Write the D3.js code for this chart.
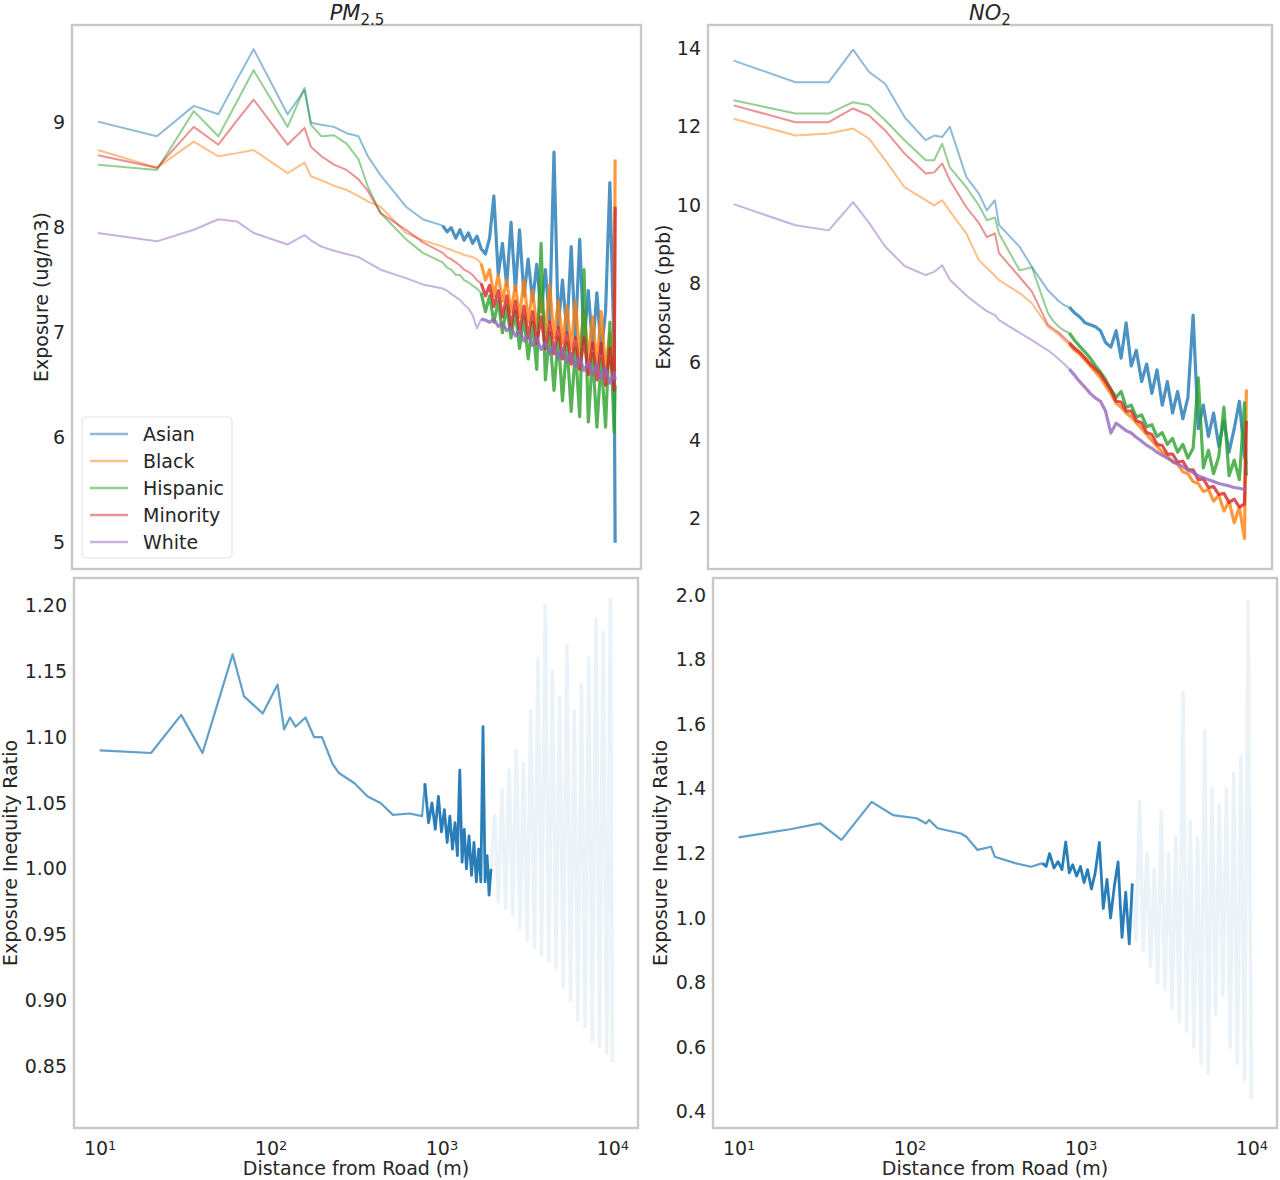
<!DOCTYPE html>
<html><head><meta charset="utf-8">
<script src="https://cdn.jsdelivr.net/npm/d3@7"></script>
<style>
body{margin:0;background:#fff;}
svg text{font-family:"DejaVu Sans",sans-serif;fill:#262626;}
</style></head><body>
<svg id="chart" width="1280" height="1180"></svg>
<script>
// ---------- categories ----------
const groups = ["Asian","Black","Hispanic","Minority","White"];
const groupColors = ["#1f77b4","#ff7f0e","#2ca02c","#d62728","#9467bd"];
const xTickValues = [10,100,1000,10000];
const xTickExponents = ["1","2","3","4"];
const pmTicks = [5,6,7,8,9];
const no2Ticks = [2,4,6,8,10,12,14];
const ratioPmTicks = [0.85,0.90,0.95,1.00,1.05,1.10,1.15,1.20];
const ratioNo2Ticks = [0.4,0.6,0.8,1.0,1.2,1.4,1.6,1.8,2.0];

// ---------- PM2.5 exposure (ug/m3) ----------
const pmDist = [10,22,36,50,64,80,126,158,172,198,234,277,325,368,436,612,767,
 1000,1060,1120,1190,1260,1330,1410,1490,1580,1670,
 1770,1870,1980,2100,2220,2350,2490,2640,2790,2960,
 3130,3320,3510,3720,3940,4170,4420,4680,4950,5250,
 5560,5880,6230,6600,6990,7400,7840,8300,8800,9320,
 9870,10000];
const pmAsian = [9.01,8.87,9.16,9.08,9.41,9.70,9.08,9.31,9.00,8.98,8.96,8.90,8.87,8.68,8.50,8.20,8.08,
 8.02,7.96,8.00,7.90,7.98,7.88,7.95,7.85,7.92,7.80,
 7.75,7.90,8.30,7.55,7.85,7.45,8.05,7.40,7.98,7.35,
 7.70,7.30,7.65,7.20,7.60,7.10,8.72,7.05,7.50,7.00,
 7.82,6.95,7.89,6.90,7.40,6.85,7.38,6.80,7.20,8.43,
 6.80,5.00];
const pmBlack = [8.74,8.57,8.82,8.68,8.71,8.74,8.52,8.62,8.49,8.45,8.40,8.36,8.30,8.25,8.20,7.95,7.88,
 7.82,7.80,7.79,7.77,7.76,7.74,7.73,7.72,7.70,7.66,
 7.50,7.60,7.35,7.55,7.30,7.50,7.20,7.45,7.15,7.50,
 7.10,7.40,7.05,7.35,7.00,7.45,6.95,7.30,6.90,7.25,
 6.85,7.30,6.80,7.20,6.75,7.15,6.70,7.20,6.65,7.00,
 6.60,8.65];
const pmHispanic = [8.60,8.55,9.11,8.87,9.20,9.50,8.96,9.33,8.98,8.87,8.88,8.80,8.65,8.39,8.14,7.89,7.76,
 7.67,7.62,7.60,7.55,7.55,7.50,7.48,7.45,7.42,7.38,
 7.20,7.35,7.10,7.30,7.00,7.25,6.95,7.20,6.85,7.15,
 6.75,7.10,6.65,7.85,6.55,7.00,6.45,6.95,6.35,6.90,
 6.25,6.85,6.20,7.60,6.15,6.80,6.10,6.75,6.10,7.10,
 6.05,6.50];
const pmMinority = [8.69,8.57,8.96,8.79,9.02,9.22,8.79,8.95,8.77,8.68,8.60,8.55,8.46,8.35,8.14,7.98,7.86,
 7.76,7.72,7.70,7.67,7.64,7.60,7.58,7.55,7.50,7.47,
 7.35,7.45,7.25,7.40,7.15,7.35,7.05,7.30,7.00,7.25,
 6.95,7.20,6.90,7.15,6.85,7.10,6.80,7.05,6.75,7.00,
 6.70,6.95,6.65,6.95,6.60,6.90,6.55,6.90,6.50,6.85,
 6.45,8.20];
const pmWhite = [7.95,7.87,7.98,8.08,8.06,7.95,7.84,7.93,7.88,7.82,7.78,7.75,7.72,7.67,7.60,7.52,7.46,
 7.42,7.40,7.37,7.34,7.31,7.27,7.23,7.17,7.04,7.13,
 7.12,7.10,7.13,7.06,7.09,7.02,7.05,6.97,7.02,6.92,
 6.98,6.88,6.95,6.84,6.90,6.80,6.87,6.76,6.84,6.72,
 6.80,6.68,6.76,6.64,6.72,6.60,6.70,6.56,6.66,6.52,
 6.62,6.55];

// ---------- NO2 exposure (ppb) ----------
const no2Dist = [10,23,36,50,62,77,100,133,149,166,184,230,272,303,338,357,471,556,
 690,740,800,860,920,990,1060,1140,1220,1310,
 1400,1500,1610,1730,1850,1980,2120,2270,2440,2610,
 2800,3000,3220,3450,3700,3960,4250,4550,4880,5230,
 5600,6000,6430,6900,7390,7920,8490,9100,9750,10000];
const no2Asian = [13.69,13.14,13.14,13.97,13.40,13.10,12.25,11.66,11.78,11.74,12.00,10.72,10.30,9.87,10.13,9.50,8.94,8.43,
 7.83,7.70,7.55,7.45,7.40,7.25,7.15,7.00,6.95,6.90,
 6.80,6.50,6.38,6.80,6.10,7.00,5.90,6.30,5.50,5.95,
 5.20,5.80,4.90,5.50,4.70,5.25,4.55,5.10,7.20,4.30,
 4.90,4.10,4.70,3.85,4.50,3.70,4.30,5.00,3.60,3.40];
const no2Black = [12.21,11.78,11.83,11.96,11.70,11.15,10.46,10.13,10.00,10.13,9.85,9.28,8.60,8.40,8.20,8.09,7.76,7.50,
 6.90,6.80,6.70,6.55,6.45,6.30,6.20,6.05,5.90,5.75,
 5.60,5.40,5.20,4.95,4.85,4.70,4.60,4.45,4.30,4.15,
 4.00,3.85,3.70,3.60,3.45,3.40,3.20,3.15,2.95,2.90,
 2.70,2.75,2.45,2.60,2.20,2.45,1.90,2.30,1.50,5.30];
const no2Hispanic = [12.68,12.34,12.34,12.63,12.55,12.17,11.66,11.15,11.15,11.57,10.97,10.46,10.00,9.62,9.69,9.28,8.34,8.42,
 7.25,7.05,6.90,6.80,6.74,6.55,6.40,6.25,6.10,5.90,
 5.75,5.55,5.30,5.10,5.25,4.85,4.90,4.60,4.65,4.35,
 4.40,4.10,4.20,3.90,4.05,3.70,3.90,3.55,3.80,5.60,
 3.30,3.75,3.15,3.60,4.85,3.10,3.50,3.00,4.96,3.10];
const no2Minority = [12.55,12.12,12.12,12.47,12.29,11.91,11.32,10.81,10.84,11.07,10.64,9.95,9.55,9.19,9.28,8.78,8.17,7.80,
 6.95,6.85,6.75,6.62,6.50,6.35,6.25,6.10,5.95,5.82,
 5.70,5.50,5.30,5.00,4.98,4.75,4.75,4.50,4.45,4.20,
 4.15,3.90,3.87,3.65,3.65,3.45,3.47,3.25,3.25,3.00,
 3.02,2.80,2.82,2.62,2.65,2.42,2.50,2.30,2.38,4.50];
const no2White = [10.03,9.49,9.36,10.08,9.55,8.95,8.45,8.22,8.30,8.47,8.10,7.70,7.45,7.30,7.20,7.07,6.75,6.56,
 6.30,6.20,6.07,5.95,5.82,5.66,5.50,5.35,5.20,5.08,
 5.00,4.75,4.19,4.44,4.35,4.25,4.19,4.08,3.98,3.88,
 3.80,3.70,3.62,3.55,3.47,3.40,3.33,3.25,3.18,3.10,
 3.05,3.00,2.95,2.90,2.87,2.84,2.80,2.78,2.75,2.74];

// ---------- Exposure inequity ratio, PM2.5 ----------
const ratioPmDist = [10,20,30,40,60,70,90,110,120,130,140,160,180,200,230,250,310,370,440,520,650,770,
 800,840,880,920,960,1000,1040,1080,1120,1160,1200,1240,1280,1320,1360,1400,1450,1500,1550,1600,1650,1700,1750,1800,1850,1900,1950];
const ratioPm = [1.090,1.088,1.117,1.088,1.163,1.131,1.118,1.140,1.106,1.115,1.108,1.115,1.100,1.100,1.080,1.073,1.065,1.055,1.050,1.041,1.042,1.040,
 1.065,1.035,1.050,1.030,1.055,1.028,1.045,1.020,1.040,1.015,1.035,1.010,1.075,1.005,1.030,1.000,1.025,0.995,1.020,0.990,1.015,0.990,1.108,0.990,1.010,0.980,1.000];
const ratioPmFarDist = [1950,2050,2150,2260,2370,2490,2610,2740,2880,3020,3170,3330,3500,3670,3850,4050,4250,4460,4680,4920,
 5160,5420,5690,5980,6280,6590,6920,7270,7630,8010,8410,8830,9280,9740,10000];
const ratioPmFar = [1.000,1.040,0.975,1.060,0.970,1.075,0.965,1.090,0.955,1.080,0.945,1.120,0.940,1.160,0.935,1.200,0.930,1.150,0.925,1.130,
 0.910,1.170,0.900,1.120,0.885,1.140,0.880,1.160,0.870,1.190,0.865,1.180,0.860,1.205,0.853];

// ---------- Exposure inequity ratio, NO2 ----------
const ratioNo2Dist = [10,20,30,40,60,80,110,125,130,146,200,215,250,300,315,415,515,600,
 630,660,700,740,780,820,860,900,950,1000,1050,1100,1160,1220,1290,1360,1430,1500,1580,1660,1750,1840,1930,2010];
const ratioNo2 = [1.250,1.275,1.293,1.242,1.360,1.319,1.309,1.293,1.304,1.278,1.262,1.252,1.211,1.221,1.190,1.170,1.159,1.170,
 1.160,1.200,1.155,1.175,1.150,1.236,1.140,1.165,1.130,1.160,1.110,1.150,1.090,1.140,1.234,1.030,1.120,1.000,1.100,1.174,0.940,1.080,0.920,1.107];
const ratioNo2FarDist = [2010,2110,2220,2330,2450,2570,2700,2830,2970,3120,3280,3440,3610,3790,3980,4180,4390,4610,4840,5080,
 5340,5600,5880,6180,6490,6810,7150,7510,7880,8280,8690,9120,9580,10000];
const ratioNo2Far = [1.107,0.930,1.360,0.900,1.200,0.850,1.150,0.800,1.330,0.780,1.200,0.720,1.250,0.680,1.700,0.650,1.300,0.600,1.250,0.550,
 1.580,0.520,1.400,0.700,1.350,0.760,1.400,0.600,1.450,0.550,1.500,0.500,1.980,0.440];

// ---------- drawing ----------
const svg = d3.select("#chart");
const FS = 19;
const frameColor = "#c8c8c8";

function makePanel(cfg){
  const x = d3.scaleLog().domain([Math.pow(10,0.85), Math.pow(10,4.15)]).range([cfg.l, cfg.r]);
  const y = d3.scaleLinear().domain(cfg.yDomain).range([cfg.b, cfg.t]);
  const g = svg.append("g");
  const cid = "clip-" + cfg.id;
  svg.append("clipPath").attr("id", cid).append("rect")
    .attr("x", cfg.l).attr("y", cfg.t).attr("width", cfg.r - cfg.l).attr("height", cfg.b - cfg.t);
  const plot = g.append("g").attr("clip-path", `url(#${cid})`);
  const ya = g.append("g").attr("transform", `translate(${cfg.l},0)`)
    .call(d3.axisLeft(y).tickValues(cfg.yTicks).tickFormat(cfg.fmt).tickSize(0).tickPadding(7));
  ya.select(".domain").remove();
  ya.selectAll("text").attr("font-size", FS).attr("font-family", "DejaVu Sans").attr("fill", "#262626");
  g.append("text").attr("transform", `translate(${cfg.ylx},${(cfg.t + cfg.b) / 2}) rotate(-90)`)
    .attr("text-anchor", "middle").attr("dominant-baseline", "central")
    .attr("font-size", FS).text(cfg.ylabel);
  if (cfg.xaxis){
    const xa = g.append("g").attr("transform", `translate(0,${cfg.b})`)
      .call(d3.axisBottom(x).tickValues(xTickValues).tickFormat(() => "").tickSize(0).tickPadding(14));
    xa.select(".domain").remove();
    xa.selectAll(".tick text").each(function(d, i){
      const t = d3.select(this).attr("font-size", FS).attr("font-family", "DejaVu Sans").attr("fill", "#262626");
      t.append("tspan").text("10");
      t.append("tspan").attr("dy", "-0.45em").attr("font-size", 13).text(xTickExponents[i]);
    });
    g.append("text").attr("x", (cfg.l + cfg.r) / 2).attr("y", 1175)
      .attr("text-anchor", "middle").attr("font-size", FS).text("Distance from Road (m)");
  }
  g.append("rect").attr("x", cfg.l).attr("y", cfg.t).attr("width", cfg.r - cfg.l).attr("height", cfg.b - cfg.t)
    .attr("fill", "none").attr("stroke", frameColor).attr("stroke-width", 2.4);
  return {x, y, plot, g};
}

// draws one series; points from index `split` on are drawn as a denser, darker stroke
function drawSeries(p, dist, vals, color, op1, w1, split, op2, w2){
  const pts = dist.map((d, i) => [d, vals[i]]);
  const line = d3.line().x(d => p.x(d[0])).y(d => p.y(d[1]));
  const parts = split == null ? [[pts, op1, w1]] : [[pts.slice(0, split + 1), op1, w1], [pts.slice(split), op2, w2]];
  parts.forEach(([seg, op, w]) => {
    p.plot.append("path").datum(seg).attr("d", line)
      .attr("fill", "none").attr("stroke", color).attr("stroke-opacity", op)
      .attr("stroke-width", w).attr("stroke-linejoin", "round");
  });
}

// top-left PM2.5
const pTL = makePanel({id:"tl", l:72, r:641, t:25, b:569, yDomain:[4.75, 9.93], yTicks:pmTicks,
  fmt:d3.format("d"), ylabel:"Exposure (ug/m3)", ylx:41, xaxis:false});
const pmSplit = pmDist.indexOf(1670);
[pmAsian, pmBlack, pmHispanic, pmMinority, pmWhite].forEach((s, i) =>
  drawSeries(pTL, pmDist, s, groupColors[i], 0.5, 2, i === 0 ? pmDist.indexOf(1000) : pmSplit, 0.8, 3.2));

// top-right NO2
const pTR = makePanel({id:"tr", l:708, r:1272, t:25, b:569, yDomain:[0.72, 14.6], yTicks:no2Ticks,
  fmt:d3.format("d"), ylabel:"Exposure (ppb)", ylx:663, xaxis:false});
const no2Split = no2Dist.indexOf(920);
[no2Asian, no2Black, no2Hispanic, no2Minority, no2White].forEach((s, i) =>
  drawSeries(pTR, no2Dist, s, groupColors[i], 0.5, 2, no2Split, 0.8, 3.2));

// bottom-left ratio PM
const pBL = makePanel({id:"bl", l:74, r:638, t:578, b:1128, yDomain:[0.803, 1.221], yTicks:ratioPmTicks,
  fmt:d3.format(".2f"), ylabel:"Exposure Inequity Ratio", ylx:10, xaxis:true});
drawSeries(pBL, ratioPmFarDist, ratioPmFar, "#1f77b4", 0.09, 3.6);
drawSeries(pBL, ratioPmDist, ratioPm, "#1f77b4", 0.7, 2.2, ratioPmDist.indexOf(800), 0.95, 2.8);

// bottom-right ratio NO2
const pBR = makePanel({id:"br", l:713, r:1277, t:578, b:1128, yDomain:[0.35, 2.053], yTicks:ratioNo2Ticks,
  fmt:d3.format(".1f"), ylabel:"Exposure Inequity Ratio", ylx:660, xaxis:true});
drawSeries(pBR, ratioNo2FarDist, ratioNo2Far, "#1f77b4", 0.09, 3.6);
drawSeries(pBR, ratioNo2Dist, ratioNo2, "#1f77b4", 0.7, 2.2, ratioNo2Dist.indexOf(600), 0.95, 2.8);

// titles
const t1 = svg.append("text").attr("x", 357).attr("y", 20).attr("text-anchor", "middle").attr("font-size", 21);
t1.append("tspan").attr("font-style", "italic").text("PM");
t1.append("tspan").attr("dy", "0.3em").attr("font-size", 15).text("2.5");
const t2 = svg.append("text").attr("x", 990).attr("y", 20).attr("text-anchor", "middle").attr("font-size", 21);
t2.append("tspan").attr("font-style", "italic").text("NO");
t2.append("tspan").attr("dy", "0.3em").attr("font-size", 15).text("2");

// legend (top-left panel)
const lg = svg.append("g");
lg.append("rect").attr("x", 82).attr("y", 417).attr("width", 150).attr("height", 141).attr("rx", 4)
  .attr("fill", "#fff").attr("fill-opacity", 0.8).attr("stroke", "#e4e4e4").attr("stroke-width", 1.2);
groups.forEach((name, i) => {
  const yy = 434 + i * 27;
  lg.append("line").attr("x1", 90).attr("x2", 128).attr("y1", yy).attr("y2", yy)
    .attr("stroke", groupColors[i]).attr("stroke-opacity", 0.5).attr("stroke-width", 2.5);
  lg.append("text").attr("x", 143).attr("y", yy).attr("dominant-baseline", "central")
    .attr("font-size", FS).text(name);
});
</script>
</body></html>
